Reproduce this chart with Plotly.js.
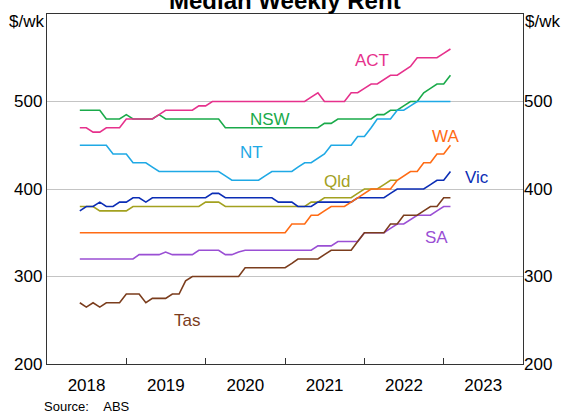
<!DOCTYPE html>
<html>
<head>
<meta charset="utf-8">
<script src="https://cdn.plot.ly/plotly-3.0.1.min.js"></script>
<style>
  html, body { margin: 0; padding: 0; background: #fff; }
  #chart { width: 563px; height: 417px; }
</style>
</head>
<body>
<div id="chart"></div>
<script>
// Monthly observations, June 2018 onward
const startYear = 2018;
const startMonth = 6; // June

const NSW = [490,490,490,490,480,480,480,485,480,480,480,480,485,480,480,480,480,480,480,480,480,480,
             470,470,470,470,470,470,470,470,470,470,470,470,470,470,470,475,475,480,480,480,480,480,480,
             485,485,490,490,495,500,500,510,515,520,520,530];
const ACT = [470,470,465,465,470,470,470,480,480,480,480,480,485,490,490,490,490,490,495,495,
             500,500,500,500,500,500,500,500,500,500,500,500,500,500,500,505,510,500,500,500,500,
             510,510,515,520,520,525,530,530,535,540,550,550,550,550,555,560];
const NT  = [450,450,450,450,450,440,440,440,430,430,430,425,420,420,420,420,420,420,420,420,420,420,
             415,410,410,410,410,410,415,420,420,420,420,425,430,430,435,440,450,450,450,450,
             460,460,470,480,480,480,490,490,495,500,500,500,500,500,500];
const Qld = [380,380,380,375,375,375,375,375,380,380,380,380,380,380,380,380,380,380,380,385,385,385,
             380,380,380,380,380,380,380,380,380,380,380,380,380,385,385,390,390,390,390,390,
             395,400,400,400,405,410,410,null,null,null,null,null,null,null,null];
const Vic = [375,380,380,385,380,380,385,385,390,390,385,390,390,390,390,390,390,390,390,390,395,395,
             390,390,390,390,390,390,390,390,385,385,385,380,380,380,385,385,385,385,385,385,
             390,390,390,390,390,395,400,400,400,400,400,405,410,410,420];
const WA  = [350,350,350,350,350,350,350,350,350,350,350,350,350,350,350,350,350,350,350,350,350,350,
             350,350,350,350,350,350,350,350,350,350,360,360,360,370,370,375,380,380,380,385,
             390,395,400,400,400,400,410,415,420,420,430,430,440,440,450];
const SA  = [320,320,320,320,320,320,320,320,320,325,325,325,325,328,325,325,325,325,330,330,330,330,
             325,325,328,330,330,330,330,330,330,330,330,330,330,330,335,335,335,340,340,340,340,
             350,350,350,350,355,360,360,365,370,370,370,375,380,380];
const Tas = [270,265,270,265,270,270,270,280,280,280,270,275,275,275,280,280,295,300,300,300,300,300,
             300,300,300,310,310,310,310,310,310,310,315,320,320,320,320,325,330,330,330,330,
             340,350,350,350,350,360,360,370,370,370,375,380,380,390,390];

const yearLabels = ['2018','2019','2020','2021','2022','2023'];
const yTicks = [200,300,400,500];

function pad(n){ return (n < 10 ? '0' : '') + n; }
const dates = NSW.map((_, i) => {
  const m = startMonth - 1 + i;
  const y = startYear + Math.floor(m / 12);
  return y + '-' + pad((m % 12) + 1) + '-01';
});

const series = [
  {name:'NSW', data:NSW, color:'#1aaa4a'},
  {name:'ACT', data:ACT, color:'#e6318c'},
  {name:'NT',  data:NT,  color:'#1fa9e5'},
  {name:'Qld', data:Qld, color:'#a3a11f'},
  {name:'Vic', data:Vic, color:'#0b2db5'},
  {name:'WA',  data:WA,  color:'#ff6b14'},
  {name:'SA',  data:SA,  color:'#9a4fd4'},
  {name:'Tas', data:Tas, color:'#7b3d1d'}
];

const traces = series.map(s => ({
  type:'scatter', mode:'lines', name:s.name, x:dates, y:s.data,
  line:{color:s.color, width:1.6}, showlegend:false, hoverinfo:'skip', connectgaps:false
}));
traces.push({type:'scatter', mode:'lines', x:[null], y:[null], xaxis:'x2', yaxis:'y2',
  showlegend:false, hoverinfo:'skip'});

const labelPos = [
  {t:'ACT', x:'2022-02-05', y:547, c:'#e6318c'},
  {t:'NSW', x:'2020-10-25', y:480, c:'#1aaa4a'},
  {t:'NT',  x:'2020-08-01', y:442, c:'#1fa9e5'},
  {t:'Qld', x:'2021-08-28', y:409, c:'#a3a11f'},
  {t:'WA',  x:'2023-01-08', y:460, c:'#ff6b14'},
  {t:'Vic', x:'2023-06-01', y:413, c:'#0b2db5'},
  {t:'SA',  x:'2022-12-01', y:345, c:'#9a4fd4'},
  {t:'Tas', x:'2019-10-08', y:250, c:'#7b3d1d'}
];

const font = 'Liberation Sans, Arial, Helvetica, sans-serif';
const annotations = labelPos.map(l => ({
  x:l.x, y:l.y, xref:'x', yref:'y', text:l.t, showarrow:false,
  font:{family:font, size:17, color:l.c}
}));
annotations.push(
  {xref:'paper', yref:'paper', x:0.5, y:1.039, yanchor:'middle', text:'<b>Median Weekly Rent</b>',
   showarrow:false, font:{family:font, size:24, color:'#000'}},
  {xref:'paper', yref:'paper', x:0, y:0.979, xanchor:'right', yanchor:'middle', xshift:-1, text:'$/wk',
   showarrow:false, font:{family:font, size:17, color:'#000'}},
  {xref:'paper', yref:'paper', x:1, y:0.979, xanchor:'left', yanchor:'middle', xshift:0, text:'$/wk',
   showarrow:false, font:{family:font, size:17, color:'#000'}},
  {xref:'paper', yref:'paper', x:0, y:-0.121, xanchor:'left', yanchor:'middle', xshift:-5,
   text:'Source:\u00a0\u00a0\u00a0\u00a0ABS', showarrow:false, font:{family:font, size:13, color:'#000'}}
);

const xr = ['2018-01-01','2024-01-01'];
const layout = {
  width:563, height:417,
  margin:{l:47, r:40, t:14, b:53, pad:0},
  paper_bgcolor:'#fff', plot_bgcolor:'#fff',
  font:{family:font, size:17, color:'#000'},
  showlegend:false,
  xaxis:{type:'date', range:xr, tickmode:'array',
    tickvals:yearLabels.map(y => y + '-07-02'), ticktext:yearLabels,
    ticks:'outside', ticklen:5, tickcolor:'rgba(0,0,0,0)',
    showgrid:false, zeroline:false, showline:true, mirror:true, linecolor:'#333', linewidth:1.2,
    tickfont:{family:font, size:17, color:'#000'}, fixedrange:true},
  xaxis2:{type:'date', range:xr, overlaying:'x', anchor:'y', side:'bottom', tickmode:'array',
    tickvals:['2019-01-01','2020-01-01','2021-01-01','2022-01-01','2023-01-01'],
    ticks:'inside', ticklen:6, tickwidth:1.2, tickcolor:'#333', showticklabels:false,
    showgrid:false, zeroline:false, showline:false},
  yaxis:{range:[200,600], tickmode:'array', tickvals:yTicks, ticks:'',
    showgrid:true, gridcolor:'#c4c4c4', gridwidth:1, zeroline:false,
    showline:true, mirror:true, linecolor:'#333', linewidth:1.2,
    tickfont:{family:font, size:17, color:'#000'}},
  yaxis2:{range:[200,600], overlaying:'y', side:'right', anchor:'x', tickmode:'array', tickvals:yTicks,
    ticks:'', showgrid:false, zeroline:false, showline:false,
    tickfont:{family:font, size:17, color:'#000'}},
  annotations:annotations
};

Plotly.newPlot('chart', traces, layout, {staticPlot:true, displayModeBar:false});
</script>
</body>
</html>
